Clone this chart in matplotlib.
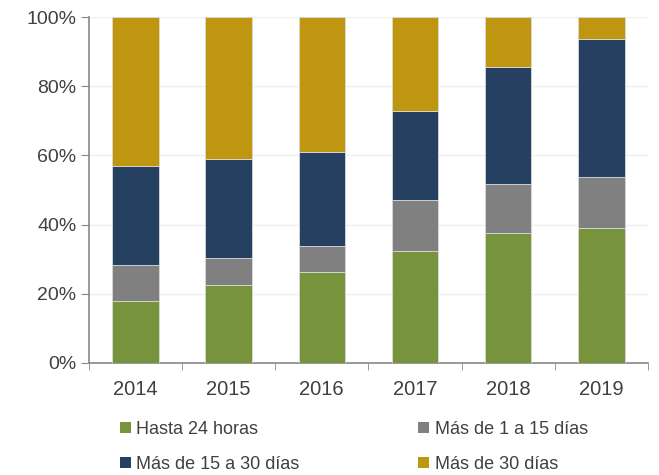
import numpy as np
import matplotlib
matplotlib.use("Agg")
import matplotlib.pyplot as plt
from matplotlib.patches import Patch
from matplotlib.ticker import PercentFormatter

plt.rcParams['font.family'] = ['Liberation Sans', 'DejaVu Sans']

years = ["2014", "2015", "2016", "2017", "2018", "2019"]
hasta_24h = [17.8, 22.6, 26.3, 32.4, 37.6, 39.0]
de_1_a_15 = [10.5, 7.7, 7.5, 14.7, 14.1, 14.7]
de_15_a_30 = [28.7, 28.7, 27.2, 25.7, 33.8, 39.9]
mas_30 = [43.0, 41.0, 39.0, 27.2, 14.5, 6.4]

series = [
    ("Hasta 24 horas", hasta_24h, "#77933C"),
    ("Más de 1 a 15 días", de_1_a_15, "#808080"),
    ("Más de 15 a 30 días", de_15_a_30, "#254061"),
    ("Más de 30 días", mas_30, "#BF9610"),
]

fig = plt.figure(figsize=(6.59, 4.75), dpi=100)
ax = fig.add_axes([0.135, 0.236, 0.848, 0.728])

x = np.arange(len(years))
bottom = np.zeros(len(years))
for label, vals, color in series:
    ax.bar(x, vals, width=0.5, bottom=bottom, color=color,
           edgecolor="#d9d9d9", linewidth=0.6, zorder=3)
    bottom += np.array(vals)

ax.set_xlim(-0.5, len(years) - 0.5)
ax.set_ylim(0, 100)
ax.set_yticks(np.arange(0, 101, 20))
ax.yaxis.set_major_formatter(PercentFormatter(decimals=0))
ax.set_xticks(x)
ax.set_xticklabels(years)
ax.set_xticks(np.arange(-0.5, len(years), 1), minor=True)
ax.tick_params(axis='x', which='major', length=0, labelsize=14.5,
               colors="#404040", pad=12)
ax.tick_params(axis='x', which='minor', length=5, color="#888888")
ax.tick_params(axis='y', length=6, color="#888888", labelsize=14,
               labelcolor="#404040", pad=3)

ax.grid(axis='y', color="#efefef", linewidth=1, zorder=0)
for s in ["top", "right"]:
    ax.spines[s].set_visible(False)
for s in ["left", "bottom"]:
    ax.spines[s].set_color("#888888")
    ax.spines[s].set_linewidth(1.2)

# row-wise legend order: matplotlib fills columns first
order = [0, 2, 1, 3]
handles = [Patch(facecolor=series[i][2], edgecolor="none", label=series[i][0])
           for i in order]
fig.legend(handles=handles, ncol=2, loc="upper left",
           bbox_to_anchor=(0.157, 0.148), frameon=False, fontsize=13,
           handlelength=0.6, handleheight=0.6, handletextpad=0.3,
           columnspacing=6.6, labelspacing=1.0, labelcolor="#404040")

fig.savefig("out.png", dpi=100)
